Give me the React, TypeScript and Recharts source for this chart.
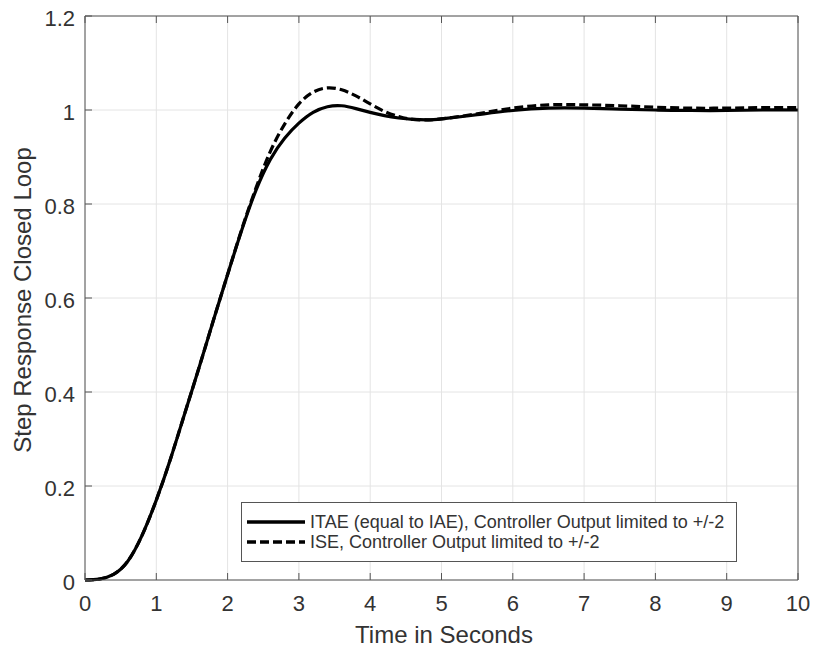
import { CartesianGrid, Legend, Line, LineChart, XAxis, YAxis } from "recharts";

const FONT = '"Liberation Sans", Arial, sans-serif';
const TEXT = "#333333";
const AXIS = "#555555";

// time in seconds
const time = [
  0, 0.2, 0.4, 0.6, 0.8, 1.0, 1.2, 1.4, 1.6, 1.8, 2.0, 2.2, 2.4, 2.6, 2.8, 3.0,
  3.2, 3.4, 3.6, 3.8, 4.0, 4.2, 4.4, 4.6, 4.8, 5.0, 5.5, 6.0, 6.5, 7.0, 7.5, 8.0,
  8.5, 9.0, 9.5, 10,
];
// ITAE (equal to IAE)
const itae = [
  0, 0.002, 0.012, 0.04, 0.095, 0.17, 0.258, 0.355, 0.452, 0.552, 0.65, 0.745,
  0.83, 0.895, 0.94, 0.972, 0.995, 1.007, 1.009, 1.003, 0.995, 0.988, 0.983,
  0.98, 0.979, 0.981, 0.99, 0.999, 1.004, 1.004, 1.002, 1.0, 0.999, 0.999, 1.0,
  1.0,
];
// ISE
const ise = [
  0, 0.002, 0.012, 0.04, 0.095, 0.17, 0.258, 0.355, 0.452, 0.552, 0.65, 0.747,
  0.835, 0.912, 0.97, 1.013, 1.038, 1.047, 1.043, 1.03, 1.013, 0.997, 0.986,
  0.98, 0.979, 0.981, 0.992, 1.004, 1.011, 1.011, 1.009, 1.006, 1.004, 1.004,
  1.005, 1.005,
];

const xTicks = [0, 1, 2, 3, 4, 5, 6, 7, 8, 9, 10];
const yTicks = [0, 0.2, 0.4, 0.6, 0.8, 1, 1.2];

const seriesNames = [
  "ITAE (equal to IAE), Controller Output limited to +/-2",
  "ISE, Controller Output limited to +/-2",
];
const seriesDash = [undefined, "9 4"];

const data = time.map((t, i) => ({ t, itae: itae[i], ise: ise[i] }));

const BottomTick = ({ x, y, payload }: any) => (
  <g>
    <line x1={x} x2={x} y1={y} y2={y - 7} stroke={AXIS} />
    <text x={x} y={y + 31} textAnchor="middle" fontSize={22} fill={TEXT} fontFamily={FONT}>
      {payload.value}
    </text>
  </g>
);

const TopTick = ({ x, y }: any) => (
  <line x1={x} x2={x} y1={y} y2={y + 7} stroke={AXIS} />
);

const LeftTick = ({ x, y, payload }: any) => (
  <g>
    <line x1={x} x2={x + 7} y1={y} y2={y} stroke={AXIS} />
    <text x={x - 10} y={y + 10} textAnchor="end" fontSize={22} fill={TEXT} fontFamily={FONT}>
      {payload.value}
    </text>
  </g>
);

const RightTick = ({ x, y }: any) => (
  <line x1={x} x2={x - 7} y1={y} y2={y} stroke={AXIS} />
);

const LegendBox = () => (
  <div
    style={{
      width: 494,
      height: 58,
      border: `1px solid ${AXIS}`,
      background: "#fff",
      fontFamily: FONT,
      fontSize: 18,
      color: TEXT,
    }}
  >
    <div style={{ height: 9 }} />
    {seriesNames.map((name, i) => (
      <div key={name} style={{ display: "flex", alignItems: "center", height: 20, whiteSpace: "nowrap" }}>
        <svg width={68} height={20} style={{ flex: "none" }}>
          <line
            x1={5}
            x2={63}
            y1={10}
            y2={10}
            stroke="#000"
            strokeWidth={3.5}
            strokeDasharray={seriesDash[i]}
          />
        </svg>
        <span style={{ lineHeight: "20px" }}>{name}</span>
      </div>
    ))}
  </div>
);

export default function App() {
  return (
    <div style={{ position: "absolute", left: 0, top: 0, background: "#fff" }}>
      <LineChart
        width={814}
        height={648}
        data={data}
        margin={{ top: 0, right: 0, bottom: 0, left: 0 }}
        style={{ fontFamily: FONT }}
      >
        <CartesianGrid stroke="#e4e4e4" strokeWidth={1} xAxisId="bottom" yAxisId="left" />
        <XAxis
          xAxisId="bottom"
          dataKey="t"
          type="number"
          domain={[0, 10]}
          ticks={xTicks}
          height={68}
          tickSize={0}
          tickMargin={0}
          tickLine={false}
          axisLine={{ stroke: AXIS }}
          tick={BottomTick}
          interval={0}
          label={() => (
            <text x={444} y={643} textAnchor="middle" fontSize={24} fill={TEXT} fontFamily={FONT}>
              Time in Seconds
            </text>
          )}
        />
        <XAxis
          xAxisId="top"
          orientation="top"
          dataKey="t"
          type="number"
          domain={[0, 10]}
          ticks={xTicks}
          height={16}
          tickSize={0}
          tickMargin={0}
          tickLine={false}
          axisLine={{ stroke: AXIS }}
          tick={TopTick}
          interval={0}
        />
        <YAxis
          yAxisId="left"
          type="number"
          domain={[0, 1.2]}
          ticks={yTicks}
          width={85}
          tickSize={0}
          tickMargin={0}
          tickLine={false}
          axisLine={{ stroke: AXIS }}
          tick={LeftTick}
          interval={0}
          label={() => (
            <text
              x={31}
              y={300}
              transform="rotate(-90 31 300)"
              textAnchor="middle"
              fontSize={24}
              fill={TEXT}
              fontFamily={FONT}
            >
              Step Response Closed Loop
            </text>
          )}
        />
        <YAxis
          yAxisId="right"
          orientation="right"
          type="number"
          domain={[0, 1.2]}
          ticks={yTicks}
          width={16}
          tickSize={0}
          tickMargin={0}
          tickLine={false}
          axisLine={{ stroke: AXIS }}
          tick={RightTick}
          interval={0}
        />
        <Legend
          layout="vertical"
          align="center"
          verticalAlign="middle"
          content={LegendBox}
          wrapperStyle={{ left: 241, top: 502, width: 496, height: 60 }}
        />
        <Line
          xAxisId="bottom"
          yAxisId="left"
          type="natural"
          dataKey="ise"
          name={seriesNames[1]}
          stroke="#000"
          strokeWidth={3.2}
          strokeDasharray={seriesDash[1]}
          dot={false}
          isAnimationActive={false}
        />
        <Line
          xAxisId="bottom"
          yAxisId="left"
          type="natural"
          dataKey="itae"
          name={seriesNames[0]}
          stroke="#000"
          strokeWidth={3.2}
          dot={false}
          isAnimationActive={false}
        />
      </LineChart>
    </div>
  );
}
